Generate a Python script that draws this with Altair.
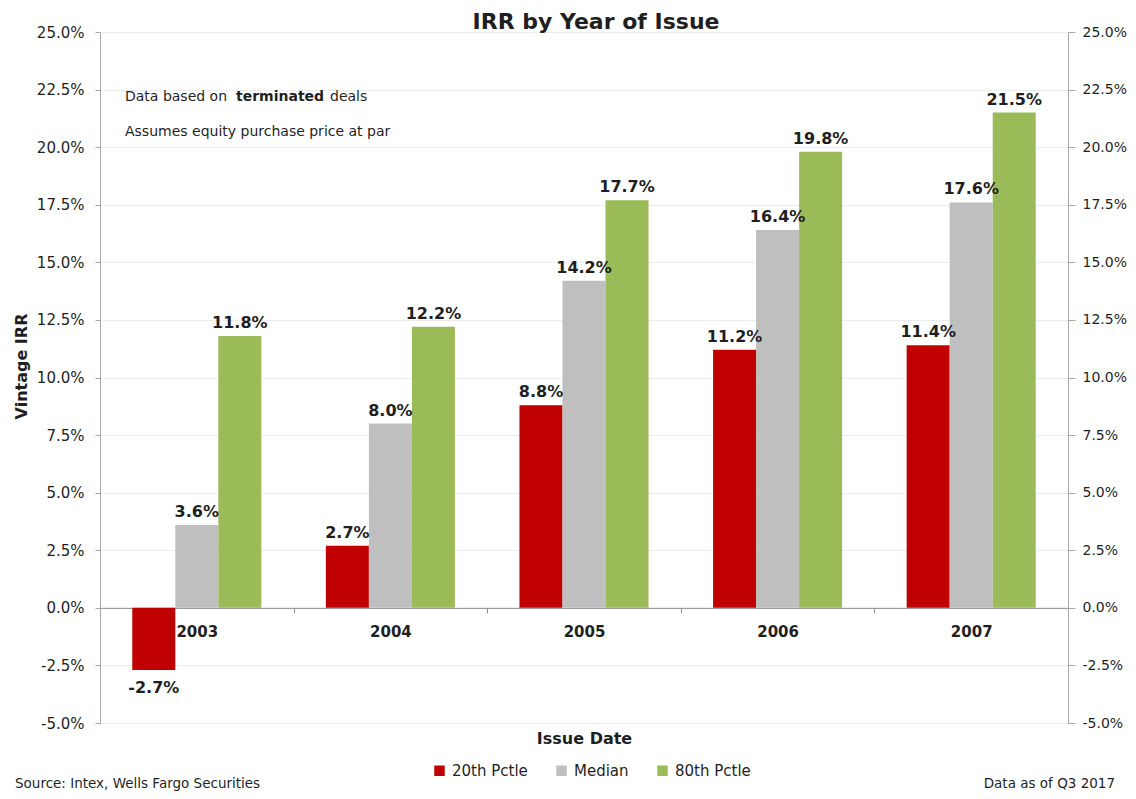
import altair as alt
import pandas as pd

# ---- data ----
years = ["2003", "2004", "2005", "2006", "2007"]
series = ["20th Pctle", "Median", "80th Pctle"]
p20 = [-2.7, 2.7, 8.8, 11.2, 11.4]
median = [3.6, 8.0, 14.2, 16.4, 17.6]
p80 = [11.8, 12.2, 17.7, 19.8, 21.5]
colors = ["#C00000", "#BFBFBF", "#9BBB59"]
y_ticks = [-5.0, -2.5, 0.0, 2.5, 5.0, 7.5, 10.0, 12.5, 15.0, 17.5, 20.0, 22.5, 25.0]

title_text = "IRR by Year of Issue"
note1_parts = ["Data based on", "terminated", "deals"]
note2 = "Assumes equity purchase price at par"
source_text = "Source: Intex, Wells Fargo Securities"
asof_text = "Data as of Q3 2017"

rows = []
for s, vals in zip(series, [p20, median, p80]):
    for yr, v in zip(years, vals):
        rows.append({"year": yr, "series": s, "value": v})
df = pd.DataFrame(rows)

FONT = "DejaVu Sans"
TXT = "#1f1f1f"
W, H = 968, 691
ymin, ymax = -5.0, 25.0
zero_offset = -(H * (0 - ymin) / (ymax - ymin))

yscale = alt.Scale(domain=[ymin, ymax], nice=False, zero=False)
pct_expr = "(datum.value < 0 ? '-' : '') + format(abs(datum.value), '.1f') + '%'"

x_axis = alt.Axis(
    title="Issue Date", offset=zero_offset, labelAngle=0, labelFontWeight="bold",
    labelFontSize=15, labelColor=TXT, labelFont=FONT, labelPadding=12,
    tickBand="extent", tickSize=5, tickColor="#8c8c8c", domainColor="#8c8c8c",
    titleY=123, titleFontSize=16, titleFontWeight="bold", titleFont=FONT, titleColor=TXT,
    grid=False,
)

left_axis = alt.Axis(
    values=y_ticks, labelExpr=pct_expr, grid=True, gridColor="#ececec",
    domainColor="#a6a6a6", tickColor="#a6a6a6", tickSize=5, labelPadding=11,
    labelFontSize=15, labelFont=FONT, labelColor=TXT,
    title="Vintage IRR", titleFontSize=16, titleFontWeight="bold", titleFont=FONT,
    titleColor=TXT, titleX=-79, titleY=334, titleBaseline="middle", titleAlign="center",
)
right_axis = alt.Axis(
    values=y_ticks, labelExpr=pct_expr, grid=False, orient="right",
    domainColor="#a6a6a6", tickColor="#a6a6a6", tickSize=7, labelPadding=7,
    labelFontSize=14, labelFont=FONT, labelColor=TXT, title=None,
)

base = alt.Chart(df).transform_calculate(
    label="(datum.value < 0 ? '-' : '') + format(abs(datum.value), '.1f') + '%'"
).encode(
    x=alt.X("year:N", sort=years, scale=alt.Scale(paddingInner=0, paddingOuter=0), axis=x_axis),
    xOffset=alt.XOffset("series:N", sort=series, scale=alt.Scale(paddingInner=0, paddingOuter=0.75)),
)

bars = base.mark_bar().encode(
    y=alt.Y("value:Q", scale=yscale, axis=left_axis, stack=None),
    color=alt.Color(
        "series:N", sort=series, scale=alt.Scale(domain=series, range=colors),
        legend=alt.Legend(
            orient="none", legendX=332, legendY=731, direction="horizontal", title=None,
            symbolType="square", symbolSize=110, symbolStrokeWidth=0, labelFontSize=15,
            labelFont=FONT, labelColor=TXT, columnPadding=26, labelOffset=5,
        ),
    ),
)

pos_labels = base.transform_filter("datum.value >= 0").mark_text(
    baseline="bottom", dy=-5, fontWeight="bold", fontSize=16, font=FONT, color=TXT
).encode(
    y=alt.Y("value:Q", scale=yscale, axis=right_axis),
    text=alt.Text("label:N"),
)
neg_labels = base.transform_filter("datum.value < 0").mark_text(
    baseline="top", dy=10, fontWeight="bold", fontSize=16, font=FONT, color=TXT
).encode(
    y=alt.Y("value:Q", scale=yscale, axis=None),
    text=alt.Text("label:N"),
)

def txt(text, x, y, **kw):
    return alt.Chart(pd.DataFrame({"t": [text]})).mark_text(font=FONT, color=TXT, **kw).encode(
        text="t:N", x=alt.value(x), y=alt.value(y)
    )

title = txt(title_text, 496, -10, fontSize=22, fontWeight="bold", align="center", baseline="middle")
n1a = txt(note1_parts[0], 25, 65, fontSize=14, align="left", baseline="middle")
n1b = txt(note1_parts[1], 136, 65, fontSize=14, fontWeight="bold", align="left", baseline="middle")
n1c = txt(note1_parts[2], 230, 65, fontSize=14, align="left", baseline="middle")
n2 = txt(note2, 25, 100, fontSize=14, align="left", baseline="middle")
src = txt(source_text, -85, 752, fontSize=13.5, align="left", baseline="middle")
asof = txt(asof_text, 1015, 752, fontSize=13.5, align="right", baseline="middle")

chart = alt.layer(
    bars, pos_labels, neg_labels, title, n1a, n1b, n1c, n2, src, asof
).resolve_scale(y="independent").properties(
    width=W, height=H, autosize=alt.AutoSizeParams(type="none"),
    padding={"left": 92, "top": 24, "right": 60, "bottom": 68},
).configure_view(stroke=None).configure(background="white")

chart.save("out.html", embed_options={"renderer": "svg", "actions": False})
